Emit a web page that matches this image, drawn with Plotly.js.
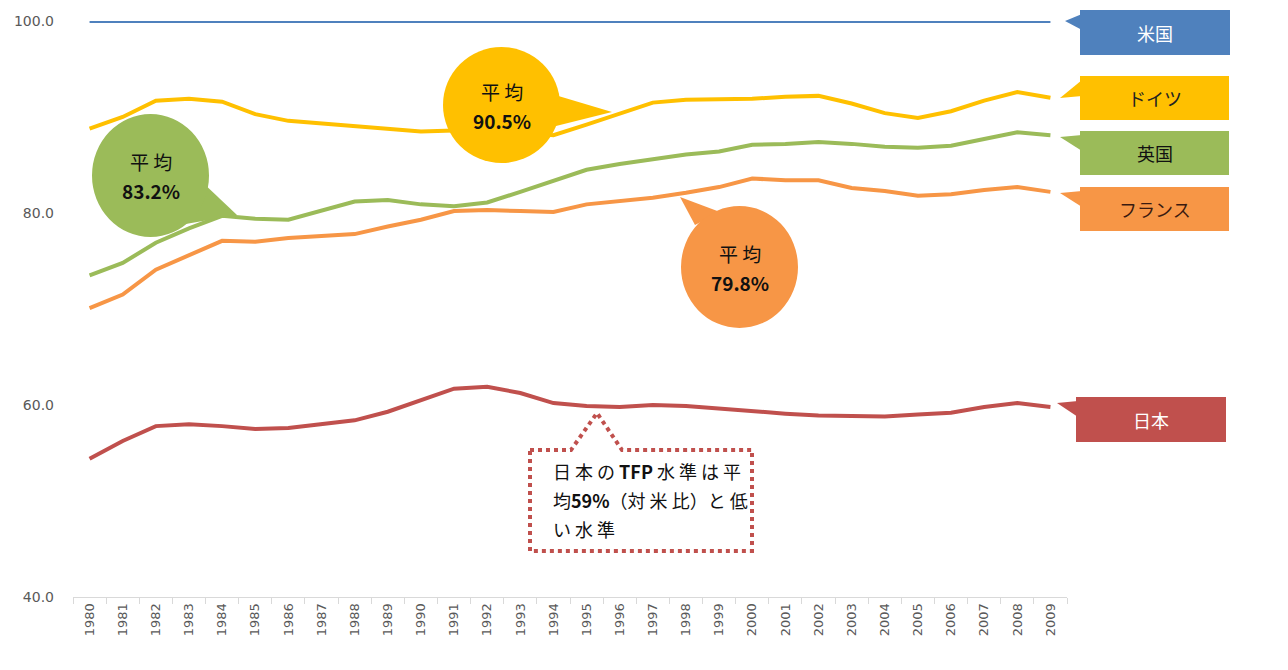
<!DOCTYPE html>
<html>
<head>
<meta charset="utf-8">
<script src="https://cdn.plot.ly/plotly-3.0.1.min.js"></script>
<style>html,body{margin:0;padding:0;background:#fff;}#chart{width:1288px;height:670px;}</style>
</head>
<body>
<div id="chart"></div>
<script>
// ---- data ----
const years = ["1980","1981","1982","1983","1984","1985","1986","1987","1988","1989",
               "1990","1991","1992","1993","1994","1995","1996","1997","1998","1999",
               "2000","2001","2002","2003","2004","2005","2006","2007","2008","2009"];
const usa     = [100,100,100,100,100,100,100,100,100,100,100,100,100,100,100,100,100,100,100,100,100,100,100,100,100,100,100,100,100,100];
const germany = [88.8,90.0,91.7,91.9,91.6,90.3,89.6,89.3,89.0,88.75,88.5,88.6,88.7,88.4,88.1,89.2,90.35,91.5,91.8,91.8,91.9,92.1,92.2,91.4,90.4,89.9,90.6,91.7,92.6,92.0];
const uk      = [73.5,74.8,76.9,78.4,79.7,79.4,79.3,80.2,81.2,81.35,80.9,80.7,81.1,82.2,83.3,84.5,85.1,85.6,86.1,86.4,87.1,87.2,87.4,87.2,86.9,86.8,87.0,87.7,88.4,88.1];
const france  = [70.1,71.5,74.1,75.6,77.1,77.0,77.4,77.6,77.8,78.6,79.3,80.2,80.3,80.2,80.1,80.9,81.25,81.6,82.1,82.7,83.6,83.4,83.4,82.6,82.3,81.8,81.95,82.4,82.7,82.2];
const japan   = [54.4,56.25,57.8,58.0,57.8,57.5,57.6,58.0,58.4,59.3,60.5,61.7,61.9,61.25,60.2,59.9,59.8,60.0,59.9,59.6,59.3,59.1,58.9,58.8,58.8,59.0,59.2,59.8,60.2,59.8];
const seriesNames = ["米国","ドイツ","英国","フランス","日本"];
const yTickVals = [40,60,80,100];
const yTickText = ["40.0","60.0","80.0","100.0"];
const avgLabels = {germany:"90.5%", uk:"83.2%", france:"79.8%"};

// ---- styles ----
const C = {usa:"#4F81BD", germany:"#FFC000", uk:"#9BBB59", france:"#F79646", japan:"#C0504D"};
const JP = "'Noto Sans CJK JP', 'Noto Sans', sans-serif";

// plot area in pixels
const L = 73, R = 1067, T = 21, B = 597;
const X = px => (px - L) / (R - L);
const Y = py => (B - py) / (B - T);
function path(pts){ return "M " + pts.map(p => X(p[0]) + "," + Y(p[1])).join(" L ") + " Z"; }

function line(name, y, color){
  return {type:"scatter", mode:"lines", x:years, y:y, name:name,
          line:{color:color, width:4}, hoverinfo:"x+y+name"};
}
const traces = [
  line(seriesNames[0], usa, C.usa),
  line(seriesNames[1], germany, C.germany),
  line(seriesNames[2], uk, C.uk),
  line(seriesNames[3], france, C.france),
  line(seriesNames[4], japan, C.japan)
];

const shapes = [];
const annotations = [];
function ann(px, py, text, size, color, bold, xanchor){
  annotations.push({xref:"paper", yref:"paper", x:X(px), y:Y(py), text: bold ? "<b>"+text+"</b>" : text,
    showarrow:false, xanchor:xanchor||"center", yanchor:"middle",
    font:{family:JP, size:size, color:color}});
}

// average callouts (circle + pointer)
function callout(x0,y0,x1,y1,ptr,color,valText){
  shapes.push({type:"path", xref:"paper", yref:"paper", path:path(ptr), fillcolor:color, line:{width:0}, layer:"above"});
  shapes.push({type:"circle", xref:"paper", yref:"paper", x0:X(x0), x1:X(x1), y0:Y(y1), y1:Y(y0),
               fillcolor:color, line:{width:0}, layer:"above"});
  const cx = (x0+x1)/2, cy = (y0+y1)/2;
  ann(cx, cy-14, "平 均", 19, "#111", false);
  ann(cx, cy+15, valText, 19, "#111", true);
}
callout(443, 47, 560, 163, [[545,92],[612,112],[540,130]], C.germany, avgLabels.germany);
callout(92, 114, 209, 237, [[200,180],[237,215],[180,225]], C.uk, avgLabels.uk);
callout(681, 206, 798, 328, [[695,225],[680,197],[720,212]], C.france, avgLabels.france);

// Japan dotted note
shapes.push({type:"path", xref:"paper", yref:"paper",
  path:path([[530,450],[571,450],[597,413],[622,450],[752,450],[752,551],[530,551]]),
  fillcolor:"#ffffff", line:{color:C.japan, width:4, dash:"dot"}, layer:"above"});
ann(551, 471, "日 本 の <b>TFP</b> 水 準 は 平", 18, "#111", false, "left");
ann(551, 500, "均<b>59%</b>（対 米 比）と 低", 18, "#111", false, "left");
ann(551, 529, "い 水 準", 18, "#111", false, "left");

// series label boxes on the right
function tag(y0, y1, x0, x1, tip, color, text, tcolor){
  shapes.push({type:"path", xref:"paper", yref:"paper", path:path([tip,[x0+2,y0+4],[x0+2,y0+20]]),
               fillcolor:color, line:{width:0}, layer:"above"});
  shapes.push({type:"rect", xref:"paper", yref:"paper", x0:X(x0), x1:X(x1), y0:Y(y1), y1:Y(y0),
               fillcolor:color, line:{width:0}, layer:"above"});
  ann((x0+x1)/2, (y0+y1)/2, text, 18, tcolor, false);
}
tag(10, 55, 1080, 1230, [1065,21], C.usa, seriesNames[0], "#ffffff");
tag(76, 120, 1080, 1229, [1060,98], C.germany, seriesNames[1], "#222");
tag(131, 175, 1080, 1229, [1060,137], C.uk, seriesNames[2], "#111");
tag(187, 231, 1080, 1229, [1060,193], C.france, seriesNames[3], "#3a1a10");
tag(397, 442, 1076, 1226, [1057,403], C.japan, seriesNames[4], "#ffffff");

const layout = {
  width:1288, height:670,
  margin:{l:L, r:1288-R, t:T, b:670-B},
  paper_bgcolor:"#ffffff", plot_bgcolor:"#ffffff",
  showlegend:false,
  xaxis:{type:"category", range:[-0.5, 29.5], tickangle:-90, showgrid:false, zeroline:false,
         showline:true, linecolor:"#D9D9D9", linewidth:1, ticks:"outside", tickson:"boundaries",
         ticklen:6, tickcolor:"#D9D9D9",
         tickfont:{family:"'DejaVu Sans', sans-serif", size:13, color:"#595959"}},
  yaxis:{range:[40,100], tickvals:yTickVals, ticktext:yTickText, showgrid:false, zeroline:false,
         showline:false, ticks:"", ticklabelstandoff:18,
         tickfont:{family:"'DejaVu Sans', sans-serif", size:14, color:"#595959"}},
  shapes:shapes, annotations:annotations
};
Plotly.newPlot("chart", traces, layout, {displayModeBar:false, staticPlot:true});
</script>
</body>
</html>
